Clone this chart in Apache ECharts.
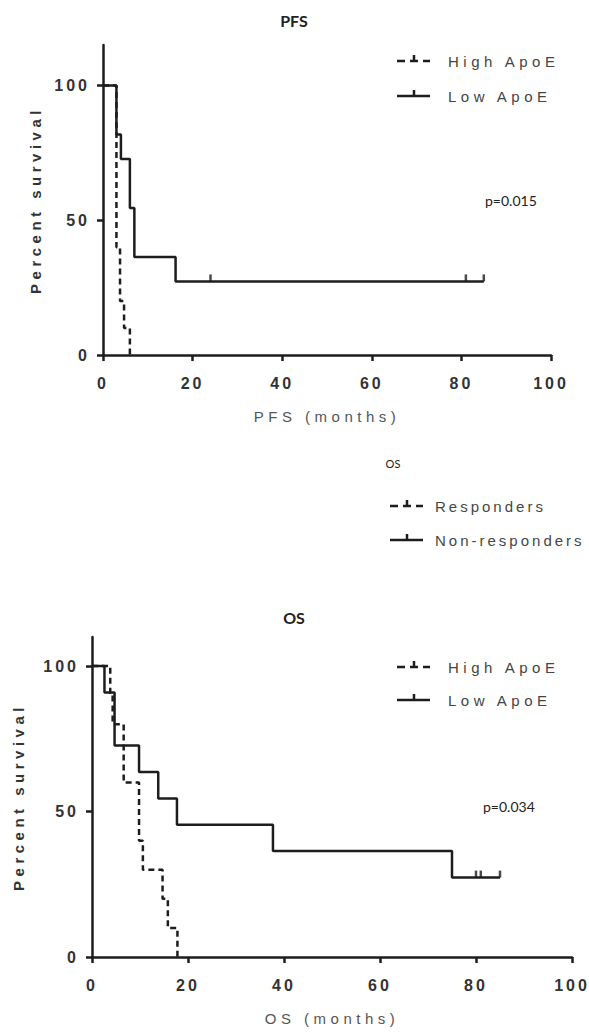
<!DOCTYPE html>
<html>
<head>
<meta charset="utf-8">
<script src="https://cdn.jsdelivr.net/npm/echarts@6/dist/echarts.min.js"></script>
<style>
  html, body { margin: 0; padding: 0; background: #fff; }
  #chart { width: 589px; height: 1036px; }
  /* Prism-like wide tracking on the Arial texts */
  #chart text[style*="Liberation Sans"] { letter-spacing: 4.5px; }
  #chart text[style*="Liberation Sans"][style*="16px"] { letter-spacing: 3px; }
  #chart text[fill="#464646"] { letter-spacing: 3px; }
</style>
</head>
<body>
<div id="chart"></div>
<script>
// PFS (months) vs percent survival
const pfsHighTime = [0, 3, 3.8, 4.7, 6];
const pfsHighSurv = [100, 40, 20, 10, 0];
const pfsLowTime = [0, 3, 4, 6, 7, 16.2, 85];
const pfsLowSurv = [100, 81.8, 72.7, 54.5, 36.4, 27.3, 27.3];
const pfsLowCensorTime = [24, 81, 85];
const pfsLowCensorSurv = [27.3, 27.3, 27.3];

// OS (months) vs percent survival
const osHighTime = [0, 3.8, 4.3, 6.6, 9.8, 10.6, 14.7, 15.8, 17.8];
const osHighSurv = [100, 90, 80, 60, 40, 30, 20, 10, 0];
const osLowTime = [0, 2.6, 4.7, 9.8, 13.8, 17.7, 37.7, 75, 85];
const osLowSurv = [100, 90.9, 72.7, 63.6, 54.5, 45.5, 36.4, 27.3, 27.3];
const osLowCensorTime = [80, 81, 85];
const osLowCensorSurv = [27.3, 27.3, 27.3];

const yTicks = [0, 50, 100];
const groupNames = ['High ApoE', 'Low ApoE'];
const responseNames = ['Responders', 'Non-responders'];

const ink = '#1d1d1d';
const pairs = (xs, ys) => xs.map((x, i) => [x, ys[i]]);

function xAxisOf(grid, name, gap) {
  return {
    type: 'value', gridIndex: grid, min: 0, max: 100, interval: 20,
    name: name, nameLocation: 'middle', nameGap: gap,
    nameTextStyle: { fontFamily: 'Liberation Sans', fontSize: 15, color: '#555' },
    axisLine: { lineStyle: { color: ink, width: 2.5 } },
    axisTick: { length: 6, lineStyle: { color: ink, width: 2.5 } },
    axisLabel: { margin: 20, fontFamily: 'Liberation Sans', fontSize: 16, fontWeight: 'bold', color: '#333' },
    splitLine: { show: false }
  };
}

function yAxisOf(grid, max, gap) {
  return {
    type: 'value', gridIndex: grid, min: 0, max: max,
    name: 'Percent survival', nameLocation: 'middle', nameGap: gap, nameRotate: 90,
    nameTextStyle: { fontFamily: 'Liberation Sans', fontSize: 15, fontWeight: 'bold', color: '#333' },
    axisLine: { lineStyle: { color: ink, width: 2.5 } },
    axisTick: { length: 6, customValues: yTicks, lineStyle: { color: ink, width: 2.5 } },
    axisLabel: { margin: 13, customValues: yTicks, fontFamily: 'Liberation Sans', fontSize: 16, fontWeight: 'bold', color: '#333' },
    splitLine: { show: false }
  };
}

function curve(name, grid, xs, ys, dashed) {
  return {
    name: name, type: 'line', xAxisIndex: grid, yAxisIndex: grid,
    step: 'end', symbol: 'none', z: 3,
    lineStyle: { color: ink, width: 2.5, type: dashed ? [6, 4] : 'solid' },
    data: pairs(xs, ys)
  };
}

function censor(grid, xs, ys) {
  return {
    type: 'scatter', xAxisIndex: grid, yAxisIndex: grid, z: 4,
    symbol: 'rect', symbolSize: [2.5, 7], symbolOffset: [0, -3.5],
    itemStyle: { color: ink },
    data: pairs(xs, ys)
  };
}

// legend row: short dashed/solid line with a censor tick, then the label
function legendRow(x, y, label, dashed, textX, textFill) {
  return [
    { type: 'line', shape: { x1: x, y1: y, x2: x + 33, y2: y },
      style: { stroke: ink, lineWidth: 2.5, lineDash: dashed ? [8, 5] : null } },
    { type: 'line', shape: { x1: x + 17, y1: y - 6, x2: x + 17, y2: y },
      style: { stroke: ink, lineWidth: 2.5 } },
    { type: 'text', style: { text: label, x: textX, y: y, fontFamily: 'Liberation Sans', fontSize: 15,
      fill: textFill || '#444', textVerticalAlign: 'middle' } }
  ];
}

function label(text, x, y, size, bold, align) {
  return { type: 'text', style: { text: text, x: x, y: y, fontFamily: 'Lato', fontSize: size,
    fontWeight: bold ? 'bold' : 'normal', fill: '#222', textAlign: align || 'center', textVerticalAlign: 'middle' } };
}

const chart = echarts.init(document.getElementById('chart'), null, { renderer: 'svg' });

chart.setOption({
  animation: false,
  backgroundColor: '#fff',
  grid: [
    { left: 103, top: 45, width: 448, height: 310 },
    { left: 92, top: 637, width: 480, height: 320 }
  ],
  xAxis: [xAxisOf(0, 'PFS (months)', 54), xAxisOf(1, 'OS (months)', 54)],
  yAxis: [yAxisOf(0, 115, 60), yAxisOf(1, 110, 66)],
  series: [
    curve(groupNames[0], 0, pfsHighTime, pfsHighSurv, true),
    curve(groupNames[1], 0, pfsLowTime, pfsLowSurv, false),
    censor(0, pfsLowCensorTime, pfsLowCensorSurv),
    curve(groupNames[0], 1, osHighTime, osHighSurv, true),
    curve(groupNames[1], 1, osLowTime, osLowSurv, false),
    censor(1, osLowCensorTime, osLowCensorSurv)
  ],
  graphic: [
    label('PFS', 294, 20, 16, true),
    label('OS', 294, 617, 16, true),
    label('p=0.015', 485, 200, 14, false, 'left'),
    label('p=0.034', 483, 806, 14, false, 'left'),
    label('OS', 393, 463, 11, false),
    ...legendRow(397, 61, groupNames[0], true, 448),
    ...legendRow(397, 96, groupNames[1], false, 448),
    ...legendRow(390, 506, responseNames[0], true, 435, '#464646'),
    ...legendRow(390, 540, responseNames[1], false, 435, '#464646'),
    ...legendRow(397, 667, groupNames[0], true, 448),
    ...legendRow(397, 700, groupNames[1], false, 448)
  ]
});
</script>
</body>
</html>
